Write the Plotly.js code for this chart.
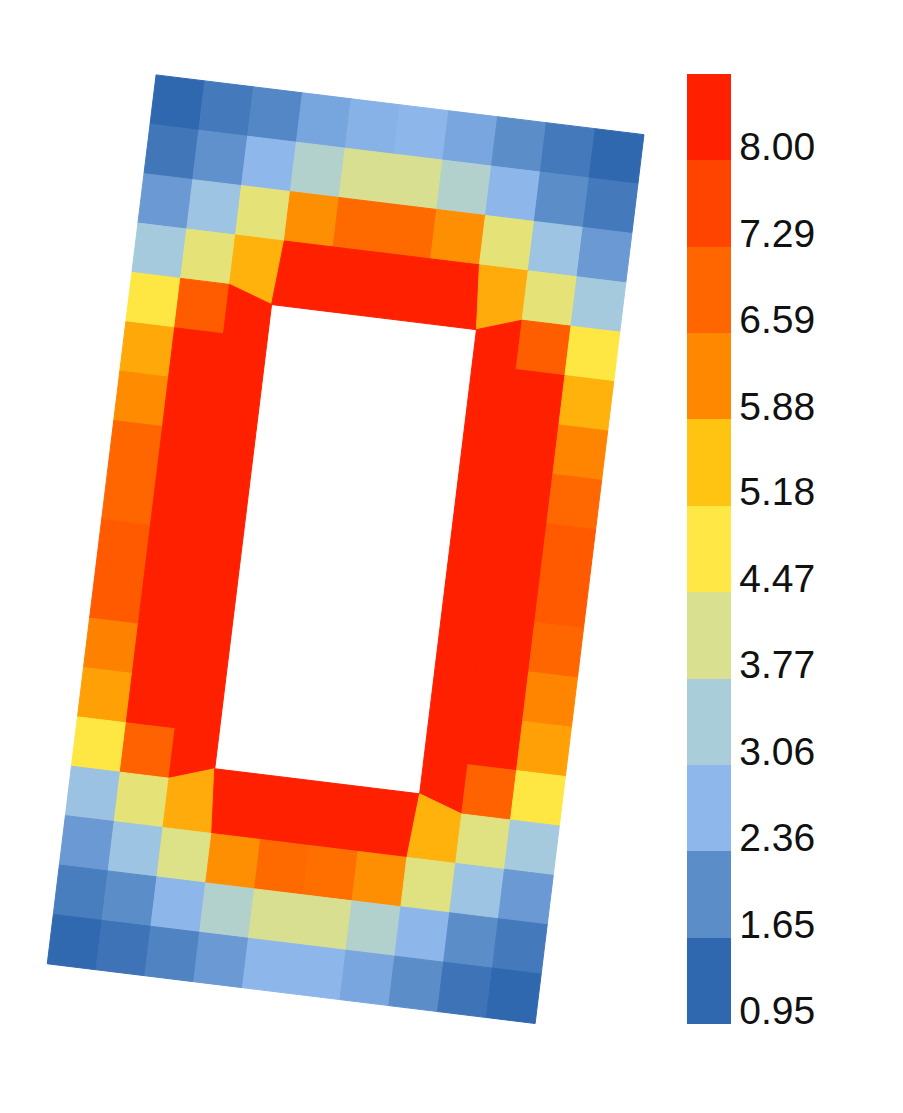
<!DOCTYPE html>
<html>
<head>
<meta charset="utf-8">
<script src="https://cdn.plot.ly/plotly-3.0.1.min.js"></script>
<style>
  html, body { margin: 0; padding: 0; background: #ffffff; }
  #chart { width: 903px; height: 1113px; }
</style>
</head>
<body>
<div id="chart"></div>
<script>
// ---- Data: cell values (18 rows x 10 columns, top to bottom), null = hole ----
const row00 = [1.30, 1.63, 1.90, 2.40, 2.62, 2.70, 2.42, 2.00, 1.63, 1.30];
const row01 = [1.58, 2.07, 2.72, 3.55, 4.10, 4.10, 3.55, 2.70, 2.00, 1.63];
const row02 = [2.21, 3.10, 4.35, 6.15, 6.85, 6.85, 6.15, 4.35, 3.10, 2.21];
const row03 = [3.30, 4.35, 5.75, 8.40, 8.40, 8.40, 8.40, 5.82, 4.35, 3.30];
const row04 = [4.85, 7.15, 8.40, null, null, null, null, 8.40, 7.10, 4.85];
const row05 = [5.85, 8.40, 8.40, null, null, null, null, 8.40, 8.40, 5.75];
const row06 = [6.20, 8.40, 8.40, null, null, null, null, 8.40, 8.40, 6.30];
const row07 = [6.94, 8.40, 8.40, null, null, null, null, 8.40, 8.40, 6.90];
const row08 = [6.94, 8.40, 8.40, null, null, null, null, 8.40, 8.40, 7.19];
const row09 = [7.19, 8.40, 8.40, null, null, null, null, 8.40, 8.40, 7.19];
const row10 = [7.19, 8.40, 8.40, null, null, null, null, 8.40, 8.40, 6.94];
const row11 = [6.38, 8.40, 8.40, null, null, null, null, 8.40, 8.40, 6.30];
const row12 = [5.95, 8.40, 8.40, null, null, null, null, 8.40, 8.40, 5.95];
const row13 = [4.85, 7.02, 8.40, null, null, null, null, 8.40, 7.02, 4.85];
const row14 = [3.05, 4.35, 5.82, 8.40, 8.40, 8.40, 8.40, 5.75, 4.25, 3.30];
const row15 = [2.21, 3.10, 4.20, 6.15, 6.85, 6.75, 6.15, 4.25, 3.10, 2.21];
const row16 = [1.72, 2.00, 2.70, 3.55, 4.10, 4.10, 3.55, 2.70, 2.00, 1.63];
const row17 = [1.32, 1.53, 1.82, 2.21, 2.70, 2.70, 2.42, 2.00, 1.53, 1.30];
const rows = [row00,row01,row02,row03,row04,row05,row06,row07,row08,
              row09,row10,row11,row12,row13,row14,row15,row16,row17];

// ---- Colour bar ----
const tickLabels = ['0.95','1.65','2.36','3.06','3.77','4.47','5.18','5.88','6.59','7.29','8.00'];
const bandColors = ['#3068AF','#5B8DC9','#8EB8EC','#AACDDA','#D9E08F','#FFE845',
                    '#FFC312','#FF8800','#FF6600','#FF4400','#FF2000'];
const cMin = 0.95, cMax = 8.70;

// ---- Mesh geometry (model units = cells) ----
const nCols = 10, nRows = 18;
const hole = {left: 2.9, right: 7.1, top: 4.3, bottom: 13.7};   // hole edges in cell units
const view = {cx: 345.6, cy: 549.2, angleDeg: 6.98, cellW: 49.15, cellH: 49.75};
const bar = {left: 687, centerY: 549, thick: 44, len: 950, labelRaisePx: 13.7};

function nodeModel(i, j) {
  let u = i, v = j;
  if (j >= 4 && j <= 14) { if (i === 3) u = hole.left; if (i === 7) u = hole.right; }
  if (i >= 3 && i <= 7) { if (j === 4) v = hole.top; if (j === 14) v = hole.bottom; }
  return [u, v];
}
const th = view.angleDeg * Math.PI / 180;
const ux = Math.cos(th), uy = Math.sin(th), vx = -Math.sin(th), vy = Math.cos(th);
function toView(u, v) {
  const du = (u - nCols / 2) * view.cellW, dv = (v - nRows / 2) * view.cellH;
  return [view.cx + du * ux + dv * vx, view.cy + du * uy + dv * vy];
}

// discrete colorscale for the colour bar
const nb = bandColors.length;
const colorscale = [];
bandColors.forEach((c, k) => { colorscale.push([k / nb, c]); colorscale.push([(k + 1) / nb, c]); });

// continuous colour for cells (interpolated between band centres)
function hex2rgb(h) { return [parseInt(h.slice(1,3),16), parseInt(h.slice(3,5),16), parseInt(h.slice(5,7),16)]; }
const bandRGB = bandColors.map(hex2rgb);
const step = (cMax - cMin) / nb;
function cellColor(val) {
  let t = (val - cMin) / step - 0.5;
  if (t <= 0) t = 0;
  if (t >= nb - 1) t = nb - 1;
  const k = Math.min(Math.floor(t), nb - 2), f = t - k;
  const a = bandRGB[k], b = bandRGB[k + 1];
  const c = a.map((x, q) => Math.round(x + (b[q] - x) * f));
  return 'rgb(' + c.join(',') + ')';
}

const traces = [];
const cxs = [], cys = [], cvals = [];
for (let r = 0; r < nRows; r++) {
  for (let c = 0; c < nCols; c++) {
    const val = rows[r][c];
    if (val === null) continue;
    const corners = [nodeModel(c, r), nodeModel(c + 1, r), nodeModel(c + 1, r + 1), nodeModel(c, r + 1)];
    const pts = corners.map(p => toView(p[0], p[1]));
    pts.push(pts[0]);
    const col = cellColor(val);
    traces.push({
      type: 'scatter', mode: 'lines', fill: 'toself',
      x: pts.map(p => p[0]), y: pts.map(p => p[1]),
      fillcolor: col, line: {color: col, width: 1},
      hoverinfo: 'text', text: val.toFixed(2), showlegend: false
    });
    const ctr = toView(c + 0.5, r + 0.5);
    cxs.push(ctr[0]); cys.push(ctr[1]); cvals.push(val);
  }
}

// labels sit just above their band boundary (baseline on the boundary)
const labelShift = bar.labelRaisePx / bar.len * (cMax - cMin);

// invisible marker trace carrying the colour bar
traces.push({
  type: 'scatter', mode: 'markers', x: cxs, y: cys, hoverinfo: 'skip', showlegend: false,
  marker: {
    size: 1, opacity: 0, color: cvals, cmin: cMin, cmax: cMax, colorscale: colorscale,
    showscale: true,
    colorbar: {
      x: bar.left / 903, xanchor: 'left', xpad: 0,
      y: 1 - bar.centerY / 1113, yanchor: 'middle', ypad: 0,
      thickness: bar.thick, thicknessmode: 'pixels',
      len: bar.len, lenmode: 'pixels',
      outlinewidth: 0,
      tickmode: 'array',
      tickvals: tickLabels.map(s => Number(s) + labelShift), ticktext: tickLabels,
      ticks: '', ticklen: 0,
      ticklabelposition: 'outside',
      tickfont: {family: 'Liberation Sans, Arial, sans-serif', size: 39, color: '#111111'}
    }
  }
});

const layout = {
  width: 903, height: 1113,
  margin: {l: 0, r: 0, t: 0, b: 0, pad: 0},
  paper_bgcolor: '#ffffff', plot_bgcolor: '#ffffff',
  showlegend: false,
  xaxis: {range: [0, 903], autorange: false, visible: false, showgrid: false, zeroline: false},
  yaxis: {range: [1113, 0], autorange: false, visible: false, showgrid: false, zeroline: false}
};

Plotly.newPlot('chart', traces, layout, {displayModeBar: false, staticPlot: true});
</script>
</body>
</html>
